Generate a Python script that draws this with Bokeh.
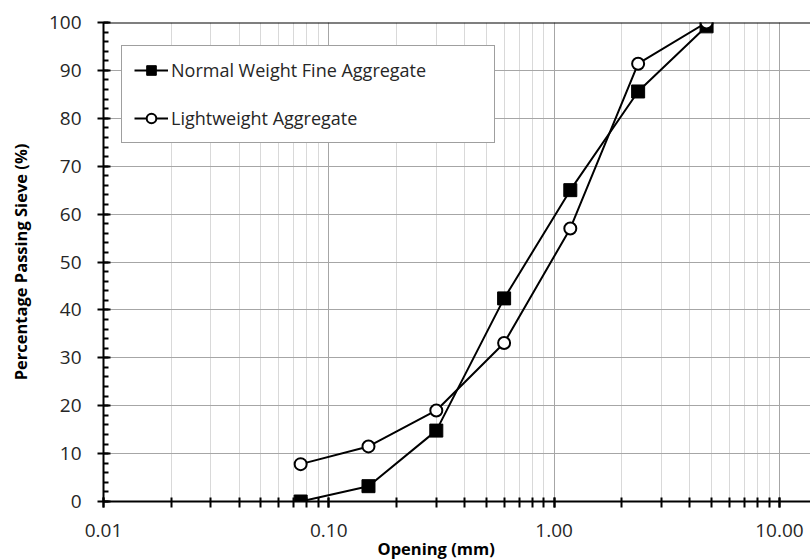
from bokeh.plotting import figure
from bokeh.models import (LogTicker, SingleIntervalTicker, PrintfTickFormatter,
                          Span, Legend, Range1d, Title)
from bokeh.embed import file_html
from bokeh.resources import INLINE

# Sieve openings (mm) and cumulative percentage passing
opening_mm = [0.075, 0.15, 0.30, 0.60, 1.18, 2.36, 4.75]
normal_weight_fine = [0.0, 3.2, 14.8, 42.4, 65.0, 85.6, 99.2]
lightweight = [7.8, 11.5, 19.0, 33.1, 57.0, 91.4, 100.0]

FONT = "Open Sans"
TEXT = "#262626"

p = figure(width=810, height=560, x_axis_type="log",
           x_range=Range1d(0.01, 13.74), y_range=Range1d(0, 100),
           output_backend="svg", toolbar_location=None,
           min_border_left=103, min_border_right=0,
           min_border_top=22, min_border_bottom=59)
p.outline_line_color = None
p.background_fill_color = "white"

# grid
p.xgrid.grid_line_color = "#a6a6a6"
p.xgrid.minor_grid_line_color = "#d9d9d9"
p.ygrid.grid_line_color = "#a6a6a6"

# x axis
xa = p.xaxis[0]
xa.ticker = LogTicker(num_minor_ticks=10)
xa.formatter = PrintfTickFormatter(format="%.2f")
xa.axis_line_width = 2
xa.axis_line_color = "black"
xa.major_tick_in = 4
xa.major_tick_out = 6
xa.minor_tick_in = 4
xa.minor_tick_out = 6
xa.major_tick_line_width = 2
xa.minor_tick_line_width = 2
xa.major_tick_line_color = "black"
xa.minor_tick_line_color = "black"
xa.major_label_text_font = FONT
xa.major_label_text_font_size = "19px"
xa.major_label_text_color = TEXT
xa.major_label_standoff = 16

# y axis
ya = p.yaxis[0]
ya.ticker = SingleIntervalTicker(interval=10, num_minor_ticks=5)
ya.axis_line_width = 2
ya.axis_line_color = "black"
ya.major_tick_in = 7
ya.major_tick_out = 6
ya.minor_tick_in = 5
ya.minor_tick_out = 0
ya.major_tick_line_width = 2
ya.minor_tick_line_width = 2
ya.major_tick_line_color = "black"
ya.minor_tick_line_color = "black"
ya.major_label_text_font = FONT
ya.major_label_text_font_size = "19px"
ya.major_label_text_color = TEXT
ya.major_label_standoff = 16
ya.axis_label = "Percentage Passing Sieve (%)"
ya.axis_label_text_font = FONT
ya.axis_label_text_font_size = "16.5px"
ya.axis_label_text_font_style = "bold"
ya.axis_label_text_color = "black"
ya.axis_label_standoff = 14

# x axis title, set left of the frame centre
p.add_layout(Title(text="Opening (mm)", align="left", offset=274,
                   text_font=FONT, text_font_size="16.5px",
                   text_font_style="bold", text_color="black", standoff=-10),
             "below")

# top border of the plot area
p.add_layout(Span(location=100, dimension="width", line_color="black", line_width=2))

# series
l1 = p.line(opening_mm, normal_weight_fine, line_color="black", line_width=2)
s1 = p.scatter(opening_mm, normal_weight_fine, marker="square", size=13,
               fill_color="black", line_color="black")
l2 = p.line(opening_mm, lightweight, line_color="black", line_width=2)
s2 = p.scatter(opening_mm, lightweight, marker="circle", size=12,
               fill_color="white", line_color="black", line_width=2)

legend = Legend(items=[("Normal Weight Fine Aggregate", [l1, s1]),
                       ("Lightweight Aggregate", [l2, s2])],
                location=(18, 358))
legend.label_text_font = FONT
legend.label_text_font_size = "18px"
legend.label_text_color = TEXT
legend.glyph_width = 34
legend.glyph_height = 24
legend.label_height = 24
legend.label_standoff = 3
legend.spacing = 24
legend.padding = 12
legend.margin = 0
legend.label_width = 311
legend.border_line_color = "#404040"
legend.border_line_width = 1
legend.background_fill_color = "white"
legend.background_fill_alpha = 1
p.add_layout(legend, "center")

open("out.html", "w").write(file_html(p, INLINE))
